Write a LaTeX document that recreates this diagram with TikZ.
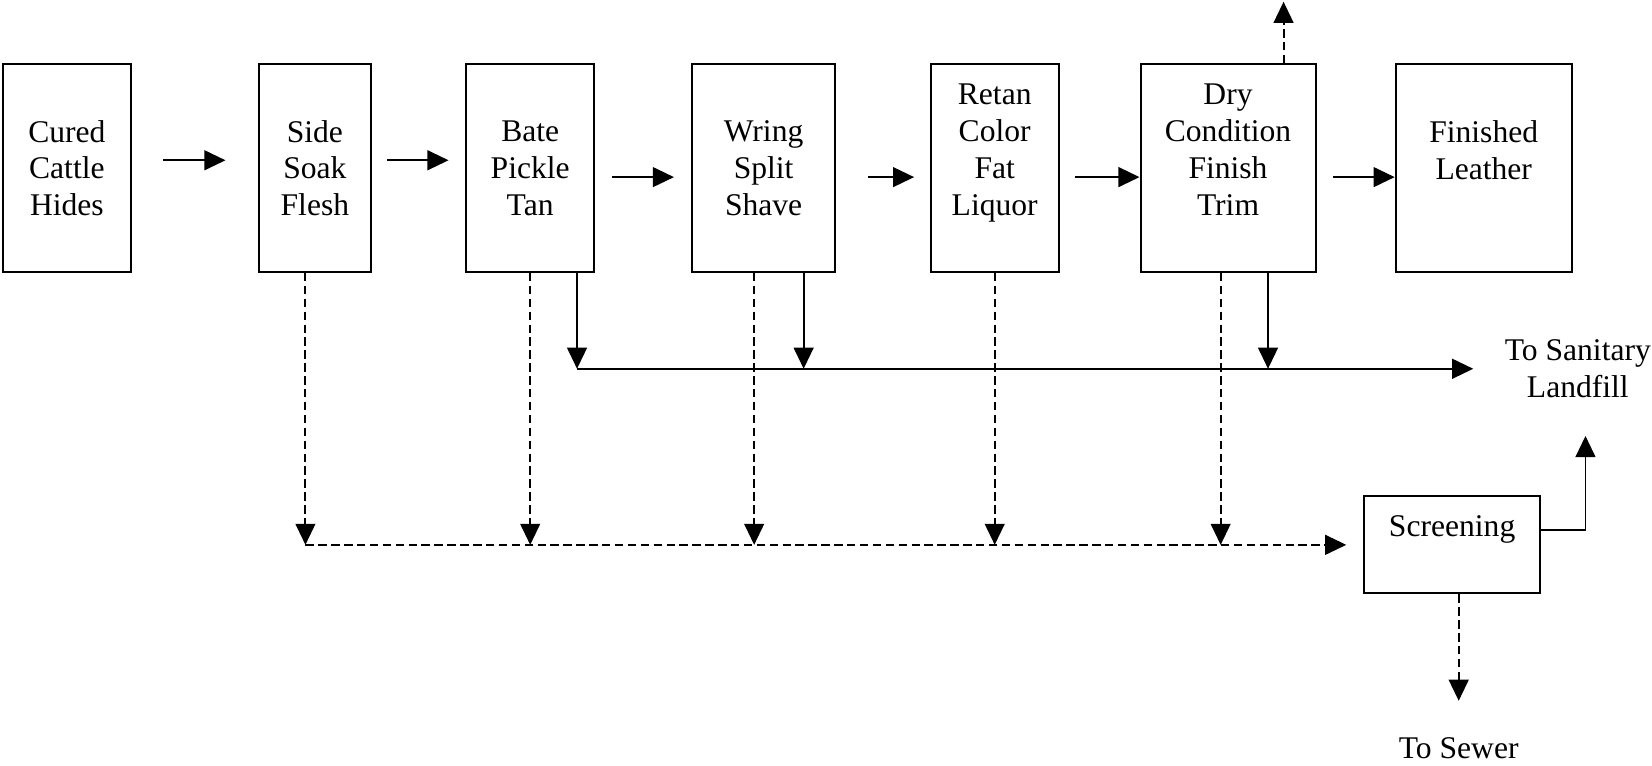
\documentclass[tikz,border=0pt]{standalone}
\usepackage{fontspec}
\setmainfont{Liberation Serif}
\usepackage{tikz}
\usetikzlibrary{positioning, arrows.meta}

\begin{document}
\begin{tikzpicture}[
        node distance = 35.9pt,
        box/.style  = {draw, line width=0.75pt, minimum height=78.9pt, align=center, inner sep=2pt, font=\fontsize{12}{14}\selectfont},
        lbl/.style  = {inner sep=0pt, align=center, font=\fontsize{12}{14}\selectfont},
        arrow/.style = {-{Triangle[length=8pt, width=7.5pt]}, line width=0.75pt},
        darrow/.style = {arrow, dash pattern=on 3.2pt off 1.7pt},
    ]
        \useasboundingbox (-25.4pt,63.9pt) rectangle (602.3pt,-226.8pt);
        % process chain
        \node[box, minimum width=48.4pt] (cured) {Cured\\Cattle\\Hides};
        \node[box, minimum width=42.4pt, right=48.1pt of cured] (side) {Side\\Soak\\Flesh};
        \node[box, minimum width=48.5pt, right=35.6pt of side] (bate) {Bate\\Pickle\\Tan};
        \node[box, minimum width=54.4pt, right=36.5pt of bate] (wring) {Wring\\Split\\Shave};
        \node[box, minimum width=48.5pt, right=35.6pt of wring] (retan) {Retan\\Color\\Fat\\Liquor\\\mbox{}};
        \node[box, minimum width=66.5pt, right=30.4pt of retan] (dry) {Dry\\Condition\\Finish\\Trim\\\mbox{}};
        \node[box, minimum width=66.9pt, right=29.7pt of dry] (fin) {Finished\\Leather\\\mbox{}};
        \node[box, minimum width=66.9pt, minimum height=36.9pt, below=84.5pt of fin, xshift=-12pt] (scr) {Screening\\\mbox{}};
        % outlets
        \coordinate (sl) at ([xshift=17.8pt, yshift=-36.4pt]bate.south);
        \coordinate (wl) at ([xshift=-3.6pt, yshift=-103.3pt]side.south);
        \coordinate (vent) at ([xshift=21.1pt, yshift=23.4pt]dry.north);
        \node[lbl, anchor=west] (sanit) at ([xshift=-26pt]fin.south east |- sl) {To Sanitary\\Landfill};
        \node[lbl, below=54pt of scr, xshift=2.5pt] (sewer) {To Sewer};
        % main flow
        \draw[arrow, shorten <=12pt, shorten >=12.4pt] ([yshift=3pt]cured.east) -- ([yshift=3pt]side.west);
        \draw[arrow, shorten <=6pt, shorten >=6.4pt] ([yshift=3pt]side.east) -- ([yshift=3pt]bate.west);
        \draw[arrow, shorten <=6.4pt, shorten >=6.5pt] ([yshift=-3.4pt]bate.east) -- ([yshift=-3.4pt]wring.west);
        \draw[arrow, shorten <=12pt, shorten >=6pt] ([yshift=-3.4pt]wring.east) -- ([yshift=-3.4pt]retan.west);
        \draw[arrow, shorten <=6pt] ([yshift=-3.4pt]retan.east) -- ([yshift=-3.4pt]dry.west);
        \draw[arrow, shorten <=6.4pt] ([yshift=-3.4pt]dry.east) -- ([yshift=-3.4pt]fin.west);
        \draw[darrow] ([xshift=21.1pt]dry.north) -- (vent);
        % solid wastes
        \draw[arrow] ([xshift=17.8pt]bate.south) -- (sl);
        \draw[arrow] ([xshift=15.2pt]wring.south) -- ([xshift=15.2pt]wring.south |- sl);
        \draw[arrow] ([xshift=15.2pt]dry.south) -- ([xshift=15.2pt]dry.south |- sl);
        \draw[arrow, shorten >=11.8pt] (sl) -- (sanit);
        % waste water
        \draw[darrow] ([xshift=-3.6pt]side.south) -- (wl);
        \draw[darrow] (bate.south) -- (bate.south |- wl);
        \draw[darrow] ([xshift=-3.6pt]wring.south) -- ([xshift=-3.6pt]wring.south |- wl);
        \draw[darrow] (retan.south) -- (retan.south |- wl);
        \draw[darrow] ([xshift=-2.8pt]dry.south) -- ([xshift=-2.8pt]dry.south |- wl);
        \draw[darrow, shorten >=6.4pt] (wl) -- (wl -| scr.west);
        \draw[arrow, shorten >=14.3pt] ([yshift=5.6pt]scr.east) -| ([xshift=2.9pt]sanit.south);
        \draw[darrow, shorten >=13.6pt] ([xshift=2.5pt]scr.south) -- (sewer.north);
    \end{tikzpicture}
\end{document}
